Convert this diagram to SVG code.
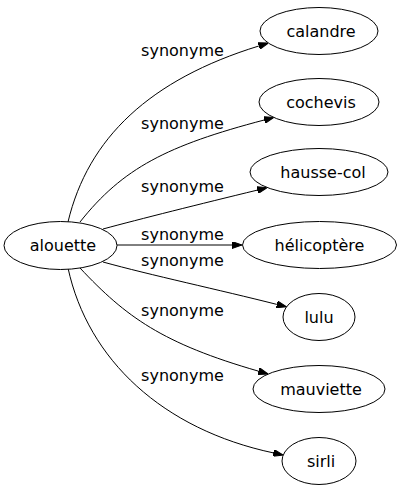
<svg xmlns="http://www.w3.org/2000/svg" width="402" height="491" viewBox="0 0 402 491">
<defs>
<style>
.node ellipse{fill:#fff;stroke:#000;stroke-width:1}
.node text{font-family:"DejaVu Sans","Liberation Sans",sans-serif;font-size:16px;fill:#000;text-anchor:middle}
.edges path{fill:none;stroke:#000;stroke-width:1}
.edges text{font-family:"DejaVu Sans","Liberation Sans",sans-serif;font-size:16px;fill:#000;text-anchor:middle}
</style>
<marker id="arr" markerUnits="userSpaceOnUse" markerWidth="10" markerHeight="7" refX="0" refY="3.5" orient="auto">
<path d="M0,0 L10,3.5 L0,7 Z" fill="#000" stroke="#000" stroke-width="1"/>
</marker>
</defs>
<rect width="402" height="491" fill="#fff"/>
<g class="edges" id="edges">
<path d="M68,222 C88,138 150,79.5 258.8,46" marker-end="url(#arr)"/>
<text x="182.5" y="56">synonyme</text>
<path d="M80,222 C122.8,168 167.3,145.5 264.2,120" marker-end="url(#arr)"/>
<text x="182.5" y="129">synonyme</text>
<path d="M103,229 C140,219 200,204 257.4,190.1" marker-end="url(#arr)"/>
<text x="182.5" y="192">synonyme</text>
<path d="M117,245 L232,245" marker-end="url(#arr)"/>
<text x="182.5" y="240">synonyme</text>
<path d="M103,262 C150,275 220,290 276.8,304.4" marker-end="url(#arr)"/>
<text x="182.5" y="266">synonyme</text>
<path d="M80,268 C126,317 162.5,343.5 258.6,371.2" marker-end="url(#arr)"/>
<text x="182.5" y="316">synonyme</text>
<path d="M68,268 C88,360 162.9,429.4 273.4,452.9" marker-end="url(#arr)"/>
<text x="182.5" y="381">synonyme</text>
</g>
<g class="node" id="alouette"><ellipse cx="60.5" cy="245.5" rx="56.5" ry="24"/><text x="63" y="251">alouette</text></g>
<g class="node" id="calandre"><ellipse cx="319" cy="31" rx="59" ry="23.5"/><text x="321" y="36.5">calandre</text></g>
<g class="node" id="cochevis"><ellipse cx="319" cy="102" rx="60" ry="23.5"/><text x="321" y="107.5">cochevis</text></g>
<g class="node" id="hausse-col"><ellipse cx="319" cy="172" rx="69" ry="23.5"/><text x="323" y="177.5">hausse-col</text></g>
<g class="node" id="helicoptere"><ellipse cx="319.5" cy="245" rx="77" ry="23.5"/><text x="319.5" y="250.5">hélicoptère</text></g>
<g class="node" id="lulu"><ellipse cx="319" cy="317" rx="36" ry="23.5"/><text x="319" y="322.5">lulu</text></g>
<g class="node" id="mauviette"><ellipse cx="319" cy="389" rx="66" ry="23.5"/><text x="321" y="394.5">mauviette</text></g>
<g class="node" id="sirli"><ellipse cx="319" cy="461" rx="37" ry="23.5"/><text x="321" y="466.5">sirli</text></g>
</svg>
